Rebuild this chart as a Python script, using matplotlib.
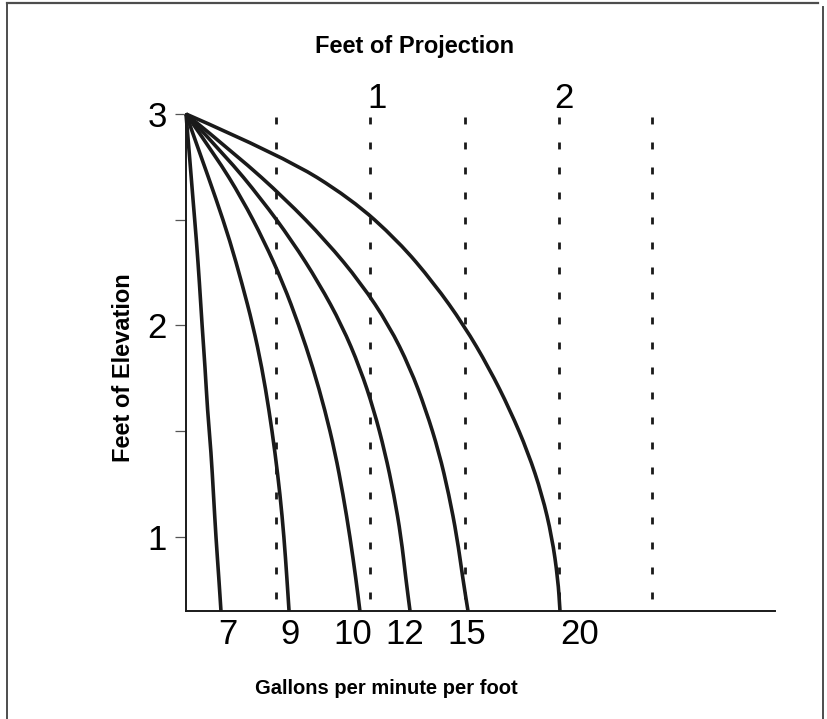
import matplotlib
matplotlib.use("Agg")
import matplotlib.pyplot as plt
from matplotlib.lines import Line2D
from matplotlib.path import Path
from matplotlib.patches import PathPatch
from matplotlib.transforms import offset_copy

plt.rcParams['font.family'] = ['Liberation Sans', 'DejaVu Sans']

elev = [3.0, 2.8, 2.6, 2.4, 2.2, 2.0, 1.8, 1.6, 1.4, 1.2, 1.0, 0.8, 0.65]

# projection (feet) of each curve at those elevations, one list per flow rate
proj_7 = [0.0, 0.019, 0.037, 0.056, 0.072, 0.086, 0.102, 0.115, 0.134, 0.147, 0.160, 0.176, 0.187]
proj_9 = [0.0, 0.080, 0.160, 0.235, 0.299, 0.358, 0.406, 0.444, 0.476, 0.503, 0.524, 0.540, 0.551]
proj_10 = [0.0, 0.160, 0.299, 0.417, 0.519, 0.604, 0.679, 0.743, 0.797, 0.840, 0.877, 0.909, 0.930]
proj_12 = [0.0, 0.214, 0.401, 0.567, 0.711, 0.834, 0.930, 1.005, 1.064, 1.112, 1.150, 1.176, 1.198]
proj_15 = [0.0, 0.278, 0.529, 0.749, 0.936, 1.086, 1.198, 1.283, 1.353, 1.406, 1.449, 1.481, 1.508]
proj_20 = [0.0, 0.519, 0.882, 1.134, 1.326, 1.487, 1.620, 1.733, 1.829, 1.904, 1.957, 1.989, 2.000]
curves = [proj_7, proj_9, proj_10, proj_12, proj_15, proj_20]

# flow labels under the axis and where they sit (feet of projection)
gpm_labels = ['7', '9', '10', '12', '15', '20']
gpm_label_x = [0.225, 0.556, 0.893, 1.171, 1.502, 2.107]

# dotted guide lines every half foot, numbered at whole feet
guide_x = [0.48, 0.985, 1.49, 1.995, 2.49]
proj_ticks = [1, 2]

elev_ticks = [1, 1.5, 2, 2.5, 3]
elev_tick_labels = ['1', '', '2', '', '3']


def smooth_path(xs, ys):
    # quadratic bezier through the midpoints, control at the read points
    pts = list(zip(xs, ys))
    verts = [pts[0]]
    codes = [Path.MOVETO]
    for i in range(1, len(pts) - 1):
        mid = ((pts[i][0] + pts[i + 1][0]) / 2, (pts[i][1] + pts[i + 1][1]) / 2)
        verts += [pts[i], mid]
        codes += [Path.CURVE3, Path.CURVE3]
    verts.append(pts[-1])
    codes.append(Path.LINETO)
    return Path(verts, codes)


W, H = 828, 719
fig = plt.figure(figsize=(W / 100, H / 100), dpi=100)
ax = fig.add_axes([186 / W, 1 - 611 / H, (775 - 186) / W, (611 - 114) / H])
ax.set_xlim(0, (775 - 186) / 187)
ax.set_ylim(0.65, 3.0)

ink = '#1a1a1a'
for gx in guide_x:
    ax.plot([gx, gx], [2.985, 0.65], color=ink, lw=2.0,
            ls=(0, (2.5, 6.5)), dash_capstyle='butt', clip_on=False)

for c in curves:
    ax.add_patch(PathPatch(smooth_path(c, elev), fill=False, edgecolor=ink,
                           lw=2.6, joinstyle='round', capstyle='butt',
                           clip_on=False))

ax.spines['top'].set_visible(False)
ax.spines['right'].set_visible(False)
ax.spines['left'].set_linewidth(1.4)
ax.spines['bottom'].set_linewidth(1.4)
ax.spines['left'].set_color(ink)
ax.spines['bottom'].set_color(ink)

ax.set_yticks(elev_ticks, elev_tick_labels)
ax.tick_params(axis='y', direction='out', length=8, width=0.9,
               color='#555555', pad=6, labelsize=25)
ax.set_xticks(gpm_label_x, gpm_labels)
ax.tick_params(axis='x', length=0, pad=5, labelsize=25)

trans = offset_copy(ax.transData, fig=fig, x=3, y=0, units='points')
for p in proj_ticks:
    ax.text(p, 3.075, str(p), ha='center', va='center', fontsize=25,
            transform=trans)

fig.text(415 / W, 1 - 46 / H, 'Feet of Projection', ha='center', va='center',
         fontsize=17, fontweight='bold')
fig.text(386 / W, 1 - 688 / H, 'Gallons per minute per foot', ha='center',
         va='center', fontsize=14.5, fontweight='bold')
fig.text(124 / W, 1 - 368 / H, 'Feet of Elevation', ha='center', va='center',
         rotation=90, fontsize=17, fontweight='bold')

# outer frame (no bottom edge)
frame = '#4d4d4d'
fig.add_artist(Line2D([7 / W, 818 / W], [1 - 3 / H, 1 - 3 / H], color=frame, lw=1.6))
fig.add_artist(Line2D([7 / W, 7 / W], [1 - 3 / H, 0], color=frame, lw=1.4))
fig.add_artist(Line2D([823 / W, 823 / W], [1 - 7 / H, 0], color=frame, lw=1.4))

fig.savefig('out.png', dpi=100)
